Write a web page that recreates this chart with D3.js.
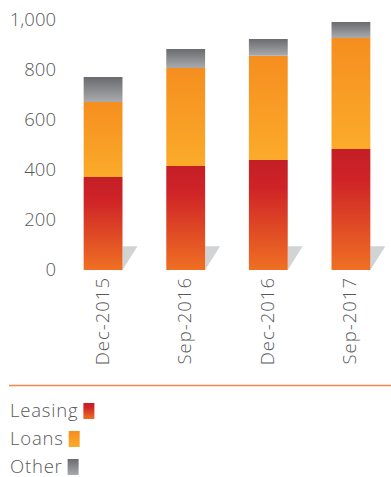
<!DOCTYPE html>
<html>
<head>
<meta charset="utf-8">
<script src="https://cdn.jsdelivr.net/npm/d3@7"></script>
<style>
  html, body { margin: 0; padding: 0; background: #fff; }
  svg { display: block; }
  text { font-family: "Open Sans", sans-serif; font-weight: 300; fill: #58595b; }
</style>
</head>
<body>
<svg id="chart" width="391" height="477"></svg>
<script>
// Portfolio by product, stacked per reporting date
const categories = ["Dec-2015", "Sep-2016", "Dec-2016", "Sep-2017"];
const leasing = [372, 416, 440, 484];
const loans = [300, 392, 417, 444];
const other = [100, 76, 67, 64];
const yTicks = [0, 200, 400, 600, 800, 1000];
const seriesNames = ["Leasing", "Loans", "Other"];

const svg = d3.select("#chart");
const W = 391;
const FONT = "18.5px";

const x = d3.scaleBand().domain(categories).range([63, 391]).paddingInner(0.53).paddingOuter(0.25);
const y = d3.scaleLinear().domain([0, 1000]).range([270, 20]);

// Gradients for the three series
const defs = svg.append("defs");
const gradSpecs = {
  Leasing: [["0%", "#c31f26"], ["25%", "#cf2327"], ["100%", "#ef7023"]],
  Loans: [["0%", "#f58e1f"], ["100%", "#fbab2a"]],
  Other: [["0%", "#6a6b6e"], ["100%", "#a9aaad"]]
};
Object.entries(gradSpecs).forEach(([k, stops]) => {
  const g = defs.append("linearGradient").attr("id", "g-" + k)
    .attr("x1", 0).attr("y1", 0).attr("x2", 0).attr("y2", 1);
  stops.forEach(s => g.append("stop").attr("offset", s[0]).attr("stop-color", s[1]));
});

const rows = categories.map((c, i) => ({ cat: c, Leasing: leasing[i], Loans: loans[i], Other: other[i] }));
const stacked = d3.stack().keys(seriesNames)(rows);

// Floor shadows behind each bar
svg.append("g").selectAll("path").data(categories).join("path")
  .attr("d", c => {
    const r = x(c) + x.bandwidth();
    return `M${r},${y(0)} L${r},${y(95)} L${r + 15},${y(95)} Z`;
  })
  .attr("fill", "#d1d3d4");

// Stacked bars
svg.append("g").selectAll("g").data(stacked).join("g")
  .attr("fill", d => `url(#g-${d.key})`)
  .selectAll("rect").data(d => d).join("rect")
  .attr("x", d => x(d.data.cat))
  .attr("width", x.bandwidth())
  .attr("y", d => y(d[1]))
  .attr("height", d => y(d[0]) - y(d[1]));

// Y axis labels
const yAxis = d3.axisLeft(y).tickValues(yTicks).tickFormat(d3.format(",")).tickSize(0).tickPadding(0);
const ya = svg.append("g").attr("transform", "translate(56,0)").call(yAxis);
ya.select(".domain").remove();
ya.selectAll("text").style("font-size", FONT).attr("fill", "#58595b")
  .style("font-family", "'Open Sans', sans-serif").style("font-weight", 300);

// X axis labels, rotated
const xAxis = d3.axisBottom(x).tickSize(0).tickPadding(0);
const xa = svg.append("g").attr("transform", `translate(0,277)`).call(xAxis);
xa.select(".domain").remove();
xa.selectAll("text")
  .attr("transform", "rotate(-90)")
  .attr("text-anchor", "end")
  .attr("x", 0).attr("y", 0).attr("dy", "0.3em").attr("dx", 0)
  .style("font-size", FONT).style("letter-spacing", "1px").attr("fill", "#58595b")
  .style("font-family", "'Open Sans', sans-serif").style("font-weight", 300);

// Separator rule
svg.append("line").attr("x1", 9).attr("x2", W).attr("y1", 385.5).attr("y2", 385.5)
  .attr("stroke", "#f0894a").attr("stroke-width", 1.5);

// Legend
const legendY = [411, 439, 467];
const lg = svg.append("g").selectAll("g").data(seriesNames).join("g")
  .attr("transform", (d, i) => `translate(10,${legendY[i]})`);
lg.append("text").text(d => d).attr("dy", "0.35em").style("font-size", FONT).style("letter-spacing", "0.8px");
lg.each(function (d) {
  const g = d3.select(this);
  const w = g.select("text").node().getComputedTextLength();
  g.append("rect").attr("x", w + 5).attr("y", -8).attr("width", 11).attr("height", 16)
    .attr("fill", `url(#g-${d})`);
});
</script>
</body>
</html>
